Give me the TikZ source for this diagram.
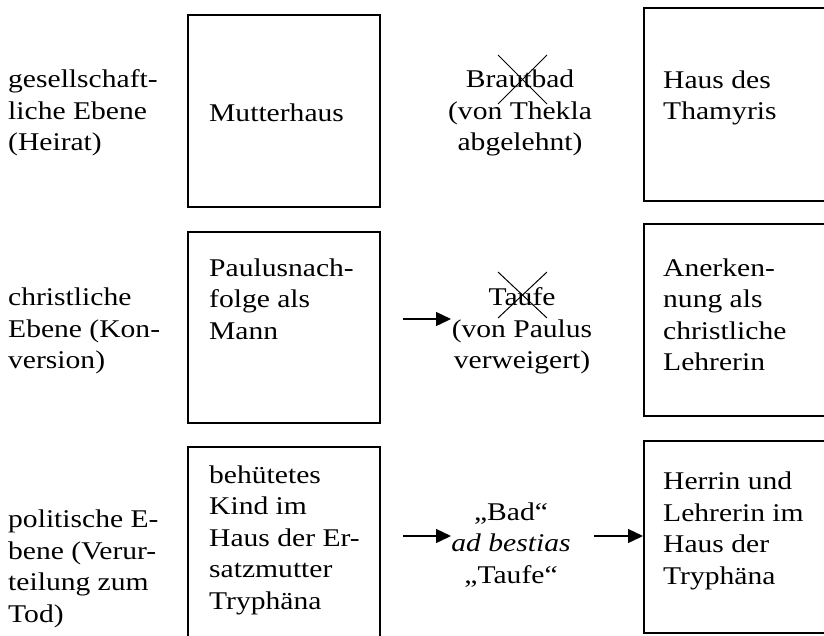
\documentclass[tikz,border=0pt]{standalone}
\usepackage{fontspec}
\setmainfont{Liberation Serif}[FakeStretch=1.16]
\usetikzlibrary{arrows.meta}
\begin{document}
\begin{tikzpicture}[x=1pt,y=-1pt,
  box/.style={draw, line width=1.5pt, anchor=north west, minimum width=192pt},
  rbox/.style={draw, line width=1.5pt, anchor=north west, minimum width=200pt},
  txt/.style={inner sep=0pt, font=\fontsize{25.5}{31.5}\selectfont, align=left, anchor=west},
  ctxt/.style={inner sep=0pt, font=\fontsize{25.5}{31.5}\selectfont, align=center},
  arr/.style={line width=1.4pt, -{Triangle[length=15pt,width=14pt]}},
  xline/.style={line width=1pt}]
\useasboundingbox (0,0) rectangle (824,635);
\clip (0,0) rectangle (824,635);
% boxes
\node[box, minimum height=192pt] (b1) at (187,14) {};
\node[box, minimum height=191pt] (b2) at (187,231) {};
\node[box, minimum height=210pt] (b3) at (187,446) {};
\node[rbox, minimum height=193pt] (r1) at (643,7) {};
\node[rbox, minimum height=192pt] (r2) at (643,223) {};
\node[rbox, minimum height=192pt] (r3) at (643,440) {};
% left labels
\node[txt] (l1) at (8,113) {gesellschaft-\\liche Ebene\\(Heirat)};
\node[txt] (l2) at (8,331) {christliche\\Ebene (Kon-\\version)};
\node[txt] (l3) at (8,569) {politische E-\\bene (Verur-\\teilung zum\\Tod)};
% box texts
\node[txt] (t1) at (209,113) {Mutterhaus};
\node[txt] (t2) at (209,299) {Paulusnach-\\folge als\\Mann};
\node[txt] (t3) at (209,540) {behütetes\\Kind im\\Haus der Er-\\satzmutter\\Tryphäna};
\node[txt] (u1) at (663,98) {Haus des\\Thamyris};
\node[txt] (u2) at (663,315) {Anerken-\\nung als\\christliche\\Lehrerin};
\node[txt] (u3) at (663,531) {Herrin und\\Lehrerin im\\Haus der\\Tryphäna};
% middle texts
\node[ctxt] (m1) at (520,113) {Brautbad\\(von Thekla\\abgelehnt)};
\node[ctxt] (m2) at (522,331) {Taufe\\(von Paulus\\verweigert)};
\node[ctxt] (m3) at (511,545) {„Bad“\\\textit{ad bestias}\\„Taufe“};
% crosses
\coordinate (c1a) at (498,55); \coordinate (c1b) at (547,104);
\coordinate (c1c) at (547,55); \coordinate (c1d) at (498,104);
\draw[xline] (c1a) -- (c1b); \draw[xline] (c1c) -- (c1d);
\coordinate (c2a) at (498,272); \coordinate (c2b) at (547,318);
\coordinate (c2c) at (547,272); \coordinate (c2d) at (498,318);
\draw[xline] (c2a) -- (c2b); \draw[xline] (c2c) -- (c2d);
% arrows
\coordinate (a2s) at (403,319); \coordinate (a2e) at (451,319);
\draw[arr] (a2s) -- (a2e);
\coordinate (a3s) at (403,536); \coordinate (a3e) at (451,536);
\draw[arr] (a3s) -- (a3e);
\coordinate (a4s) at (594,536);
\draw[arr] (a4s) -- (r3.west |- a4s);
\end{tikzpicture}
\end{document}
